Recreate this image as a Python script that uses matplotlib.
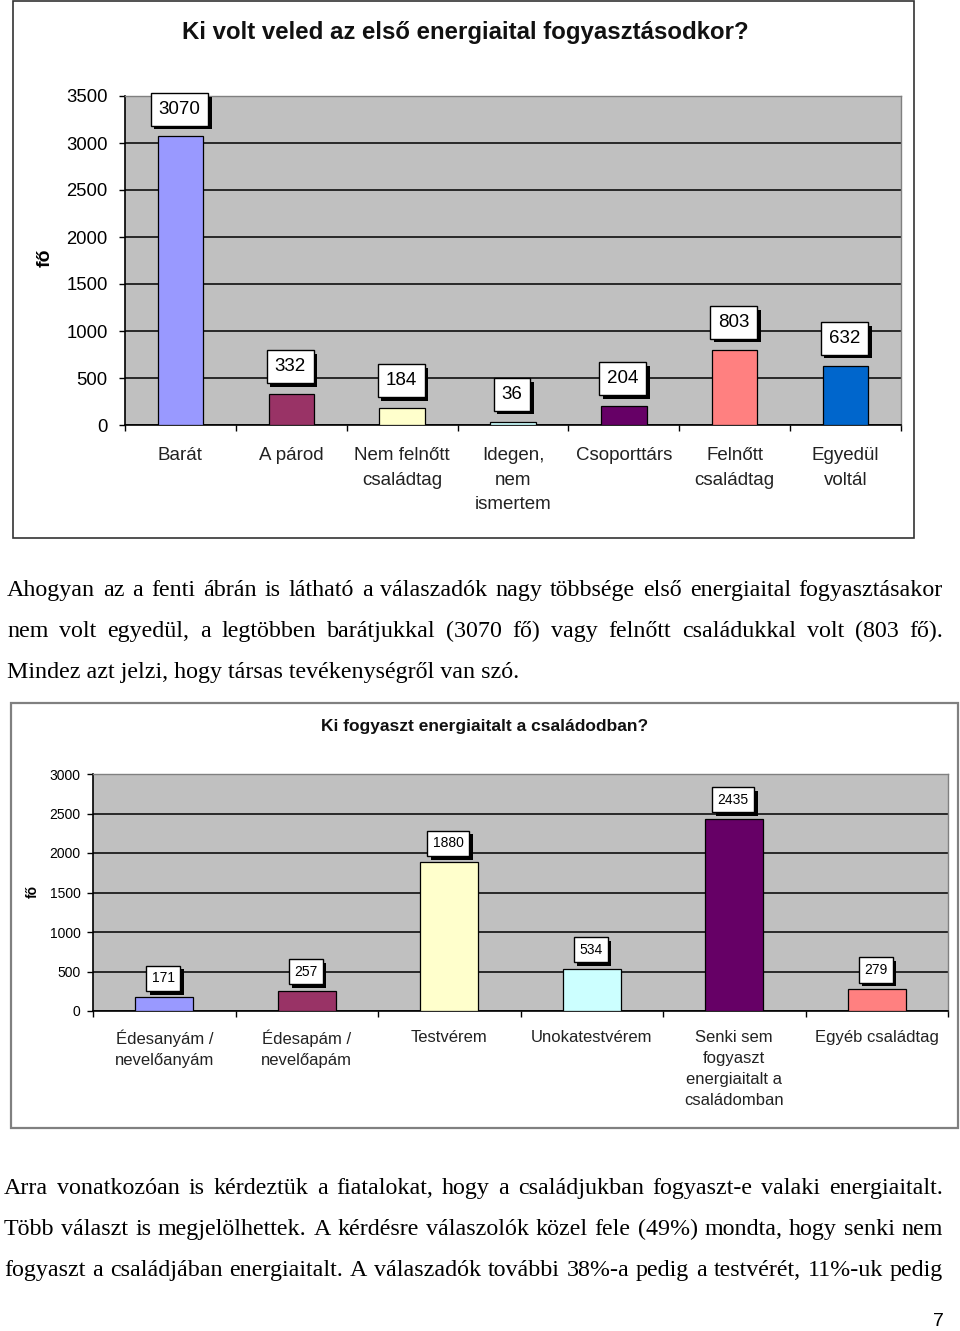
import matplotlib
matplotlib.use("Agg")
import matplotlib.pyplot as plt
import matplotlib.patheffects as pe
from matplotlib.patches import Rectangle

W, H = 960, 1331

# --- chart 1 data
title1 = "Ki volt veled az első energiaital fogyasztásodkor?"
cats1 = ["Barát", "A párod", "Nem felnőtt\ncsaládtag", "Idegen,\nnem\nismertem",
         "Csoporttárs", "Felnőtt\ncsaládtag", "Egyedül\nvoltál"]
vals1 = [3070, 332, 184, 36, 204, 803, 632]
colors1 = ["#9999FF", "#993366", "#FFFFCC", "#CCFFFF", "#660066", "#FF8080", "#0066CC"]
yticks1 = [0, 500, 1000, 1500, 2000, 2500, 3000, 3500]

# --- chart 2 data
title2 = "Ki fogyaszt energiaitalt a családodban?"
cats2 = ["Édesanyám /\nnevelőanyám", "Édesapám /\nnevelőapám", "Testvérem", "Unokatestvérem",
         "Senki sem\nfogyaszt\nenergiaitalt a\ncsaládomban", "Egyéb családtag"]
vals2 = [171, 257, 1880, 534, 2435, 279]
colors2 = ["#9999FF", "#993366", "#FFFFCC", "#CCFFFF", "#660066", "#FF8080"]
yticks2 = [0, 500, 1000, 1500, 2000, 2500, 3000]

# --- body text
para1 = [
    "Ahogyan az a fenti ábrán is látható a válaszadók nagy többsége első energiaital fogyasztásakor",
    "nem volt egyedül, a legtöbben barátjukkal (3070 fő) vagy felnőtt családukkal volt (803 fő).",
    "Mindez azt jelzi, hogy társas tevékenységről van szó.",
]
para2 = [
    "Arra vonatkozóan is kérdeztük a fiatalokat, hogy a családjukban fogyaszt-e valaki energiaitalt.",
    "Több választ is megjelölhettek. A kérdésre válaszolók közel fele (49%) mondta, hogy senki nem",
    "fogyaszt a családjában energiaitalt. A válaszadók további 38%-a pedig a testvérét, 11%-uk pedig",
]

plt.rcParams['font.family'] = ['Liberation Sans', 'DejaVu Sans']

fig = plt.figure(figsize=(W / 100, H / 100), dpi=100)
fig.patch.set_facecolor("white")


def px_axes(l, t, r, b):
    return fig.add_axes([l / W, 1 - b / H, (r - l) / W, (b - t) / H])


def frame(l, t, r, b, color, lw):
    fig.patches.append(Rectangle((l / W, 1 - b / H), (r - l) / W, (b - t) / H,
                                 transform=fig.transFigure, fill=False,
                                 edgecolor=color, linewidth=lw, zorder=0))


def bar_chart(ax, cats, vals, colors, yticks, fs_tick, fs_cat, fs_val,
              val_off, val_pad, tick_pad, cat_pad, cat_ls):
    n = len(cats)
    x = list(range(n))
    ax.set_facecolor("#C0C0C0")
    ax.bar(x, vals, width=0.41, color=colors, edgecolor="black", linewidth=0.9, zorder=3)
    ax.set_xlim(-0.5, n - 0.5)
    ax.set_ylim(yticks[0], yticks[-1])
    ax.set_yticks(yticks)
    ax.set_yticklabels([str(t) for t in yticks], fontsize=fs_tick)
    ax.yaxis.grid(True, color="black", linewidth=1.1, zorder=1)
    ax.set_axisbelow(True)
    ax.set_xticks([i - 0.5 for i in range(n + 1)])
    ax.set_xticklabels([])
    ax.set_xticks(x, cats, minor=True)
    ax.tick_params(axis="x", which="major", direction="out", length=4.5, width=1)
    ax.tick_params(axis="x", which="minor", length=0, pad=cat_pad, labelsize=fs_cat)
    ax.tick_params(axis="y", direction="out", length=4.5, width=1, pad=tick_pad)
    for lab in ax.get_xticklabels(minor=True):
        lab.set_linespacing(cat_ls)
        lab.set_color("#222222")
    for s in ["left", "bottom"]:
        ax.spines[s].set_color("black")
        ax.spines[s].set_linewidth(1.2)
    for s in ["top", "right"]:
        ax.spines[s].set_color("#808080")
        ax.spines[s].set_linewidth(1.0)
    for i, v in enumerate(vals):
        t = ax.annotate(str(v), (i, v), xytext=(-1, val_off), textcoords="offset pixels",
                        ha="center", va="center", fontsize=fs_val, color="black", zorder=5,
                        bbox=dict(boxstyle="square,pad=%s" % val_pad, fc="white",
                                  ec="black", lw=1))
        t.get_bbox_patch().set_path_effects([
            pe.SimplePatchShadow(offset=(2.5, -2.5), shadow_rgbFace="black", alpha=1),
            pe.Normal()])


# chart 1
frame(13, 1, 914, 538, "#333333", 1.2)
ax1 = px_axes(125, 96, 901, 425)
bar_chart(ax1, cats1, vals1, colors1, yticks1, 13.3, 13.5, 13.5,
          val_off=27, val_pad=0.42, tick_pad=8, cat_pad=16, cat_ls=1.57)
fig.text(465 / W, 1 - 32 / H, title1, ha="center", va="center",
         fontsize=17.3, fontweight="bold", color="#111111")
fig.text(45 / W, 1 - 258 / H, "fő", ha="center", va="center", rotation=90,
         fontsize=14, fontweight="bold")

# chart 2
frame(11, 703, 958, 1128, "#808080", 1.6)
ax2 = px_axes(93, 774, 948, 1011)
bar_chart(ax2, cats2, vals2, colors2, yticks2, 10, 12, 10,
          val_off=19, val_pad=0.4, tick_pad=4.5, cat_pad=13.5, cat_ls=1.5)
fig.text(485 / W, 1 - 727 / H, title2, ha="center", va="center",
         fontsize=12.5, fontweight="bold", color="#111111")
fig.text(33 / W, 1 - 892 / H, "fő", ha="center", va="center", rotation=90,
         fontsize=10, fontweight="bold")

# body text, justified
renderer = fig.canvas.get_renderer()


def justify(lines, left, right, y0, step, fs, last_left):
    for k, line in enumerate(lines):
        y = 1 - (y0 + k * step) / H
        kw = dict(fontsize=fs, family="Liberation Serif", va="baseline", ha="left")
        if last_left and k == len(lines) - 1:
            fig.text(left / W, y, line, **kw)
            continue
        words = line.split()
        texts = [fig.text(0, y, w, **kw) for w in words]
        widths = [t.get_window_extent(renderer).width for t in texts]
        gap = (right - left - sum(widths)) / (len(words) - 1)
        xpos = left
        for t, w in zip(texts, widths):
            t.set_x(xpos / W)
            xpos += w + gap


justify(para1, 7, 943, 596, 41, 17.3, True)
justify(para2, 4, 943, 1194, 41, 17.3, False)

fig.text(938 / W, 1 - 1322 / H, "7", ha="center", va="center", fontsize=14)

fig.savefig("out.png", dpi=100)
